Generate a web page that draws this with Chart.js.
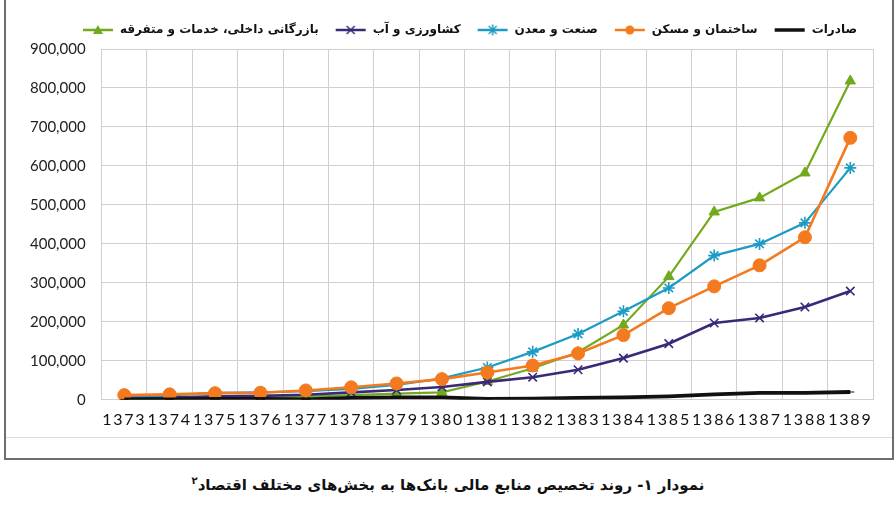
<!DOCTYPE html>
<html>
<head>
<meta charset="utf-8">
<script src="https://cdn.jsdelivr.net/npm/chart.js@4/dist/chart.umd.min.js"></script>
<style>
  html, body { margin: 0; padding: 0; background: #ffffff; }
  body { width: 896px; height: 512px; position: relative; overflow: hidden; }
  #box { position: absolute; left: 4px; top: -10px; width: 890px; height: 470px; border: 2px solid #6e6e6e; box-sizing: border-box; }
  #inner { position: absolute; left: 6px; top: 437px; width: 886px; height: 1px; background: #dcdcdc; }
  #wrap { position: absolute; left: 0; top: 0; width: 896px; height: 447px; }
  #caption { position: absolute; left: 0; top: 475px; width: 896px; text-align: center; direction: rtl;
             font-family: "DejaVu Sans", sans-serif; font-weight: bold; font-size: 15px; color: #111; }
  #caption sup { font-size: 10px; }
</style>
</head>
<body>
<div id="box"></div>
<div id="inner"></div>
<div id="wrap"><canvas id="c"></canvas></div>
<div id="caption">نمودار ۱- روند تخصیص منابع مالی بانک‌ها به بخش‌های مختلف اقتصاد<sup>۲</sup></div>
<script>
const years = ['1373','1374','1375','1376','1377','1378','1379','1380','1381','1382','1383','1384','1385','1386','1387','1388','1389'];
const yTicks = [0,100000,200000,300000,400000,500000,600000,700000,800000,900000];

const seriesNames = ['بازرگانی داخلی، خدمات و متفرقه', 'کشاورزی و آب', 'صنعت و معدن', 'ساختمان و مسکن', 'صادرات'];

const trade    = [2000,3000,5000,5000,8000,12000,16000,19000,47000,81000,122000,192000,316000,482000,518000,582000,818000];
const agri     = [5000,6000,9000,10000,13000,19000,25000,33000,46000,58000,77000,107000,144000,197000,210000,238000,279000];
const industry = [9000,11000,18000,19000,22000,28000,38000,55000,83000,123000,169000,227000,287000,370000,400000,454000,595000];
const housing  = [12000,14000,17000,18000,24000,32000,42000,53000,70000,88000,119000,166000,235000,291000,345000,417000,672000];
const exports_ = [1000,1000,2000,2000,1000,5000,6000,6000,2000,3000,5000,6000,9000,14000,18000,18000,20000];

const colors = ['#72a91d', '#3a2878', '#1c9cc4', '#f47a1f', '#111111'];
const styles = ['triangle', 'crossRot', 'star', 'circle', 'line'];

function legendIcon(color, style) {
  const cv = document.createElement('canvas');
  cv.width = 32; cv.height = 14;
  const g = cv.getContext('2d');
  g.strokeStyle = color; g.fillStyle = color;
  g.lineWidth = style === 'line' ? 3.5 : 2.5;
  g.beginPath(); g.moveTo(1, 7); g.lineTo(31, 7); g.stroke();
  g.lineWidth = 1.5;
  if (style === 'triangle') {
    g.beginPath(); g.moveTo(16, 2); g.lineTo(21, 11); g.lineTo(11, 11); g.closePath(); g.fill();
  } else if (style === 'circle') {
    g.beginPath(); g.arc(16, 7, 4.5, 0, Math.PI * 2); g.fill();
  } else if (style === 'crossRot') {
    g.beginPath(); g.moveTo(12, 3); g.lineTo(20, 11); g.moveTo(20, 3); g.lineTo(12, 11); g.stroke();
  } else if (style === 'star') {
    g.beginPath(); g.moveTo(12, 3); g.lineTo(20, 11); g.moveTo(20, 3); g.lineTo(12, 11);
    g.moveTo(16, 1.5); g.lineTo(16, 12.5); g.stroke();
  }
  return cv;
}

const seriesData = [trade, agri, industry, housing, exports_];
const orders = [4, 3, 2, 1, 0];
const radii = [6, 6, 6, 6.5, 4];
const widths = [2.2, 2.6, 2.2, 2.6, 3.8];

const datasets = seriesData.map((d, i) => ({
  label: seriesNames[i],
  data: d,
  borderColor: colors[i],
  backgroundColor: colors[i],
  pointStyle: styles[i],
  pointRadius: radii[i],
  pointBorderWidth: styles[i] === 'crossRot' || styles[i] === 'star' ? 1.6 : 1,
  pointBackgroundColor: colors[i],
  pointBorderColor: colors[i],
  borderWidth: widths[i],
  tension: 0,
  order: orders[i],
  fill: false
}));

const helperPlugin = {
  id: 'helper',
  beforeLayout(chart) {
    const lg = chart.legend;
    if (lg && !lg._wrappedFit) {
      const f = lg.fit.bind(lg);
      lg.fit = function () { f(); this.height += 3; };
      lg._wrappedFit = true;
    }
  },
  beforeDraw(chart) {
    const xs = chart.scales.x;
    if (xs && !xs._ls) {
      const d = xs.drawLabels.bind(xs);
      xs.drawLabels = function (a) {
        const c = this.ctx; c.save(); c.letterSpacing = '1.8px'; d(a); c.restore();
      };
      xs._ls = true;
    }
  }
};

new Chart(document.getElementById('c'), {
  type: 'line',
  data: { labels: years, datasets },
  plugins: [helperPlugin],
  options: {
    responsive: true,
    maintainAspectRatio: false,
    animation: false,
    layout: { padding: { left: 14, right: 23, top: 8, bottom: 8 } },
    plugins: {
      tooltip: { enabled: false },
      legend: {
        position: 'top',
        align: 'end',
        labels: {
          usePointStyle: true,
          pointStyleWidth: 32,
          padding: 16,
          color: '#111',
          font: { family: 'DejaVu Sans', size: 12, weight: 'bold' },
          generateLabels(chart) {
            return chart.data.datasets.map((ds, i) => ({
              text: ds.label,
              fillStyle: colors[i],
              strokeStyle: colors[i],
              lineWidth: 0,
              pointStyle: legendIcon(colors[i], styles[i]),
              datasetIndex: i,
              hidden: false,
              fontColor: '#111'
            }));
          }
        }
      }
    },
    scales: {
      x: {
        type: 'category',
        offset: true,
        grid: { offset: true, color: '#d4ccd1', lineWidth: 1, drawTicks: false },
        border: { color: '#d4ccd1' },
        ticks: {
          autoSkip: false, maxRotation: 0, minRotation: 0, padding: 10,
          color: '#111',
          font: { family: 'Lato', size: 16 }
        }
      },
      y: {
        min: 0, max: 900000,
        afterBuildTicks(scale) { scale.ticks = yTicks.map(v => ({ value: v })); },
        grid: { color: '#d4ccd1', lineWidth: 1, drawTicks: false },
        border: { color: '#d4ccd1' },
        ticks: {
          padding: 16,
          color: '#222',
          font: { family: 'Lato', size: 15 },
          callback: (v) => Number(v).toLocaleString('en-US')
        }
      }
    }
  }
});
</script>
</body>
</html>
